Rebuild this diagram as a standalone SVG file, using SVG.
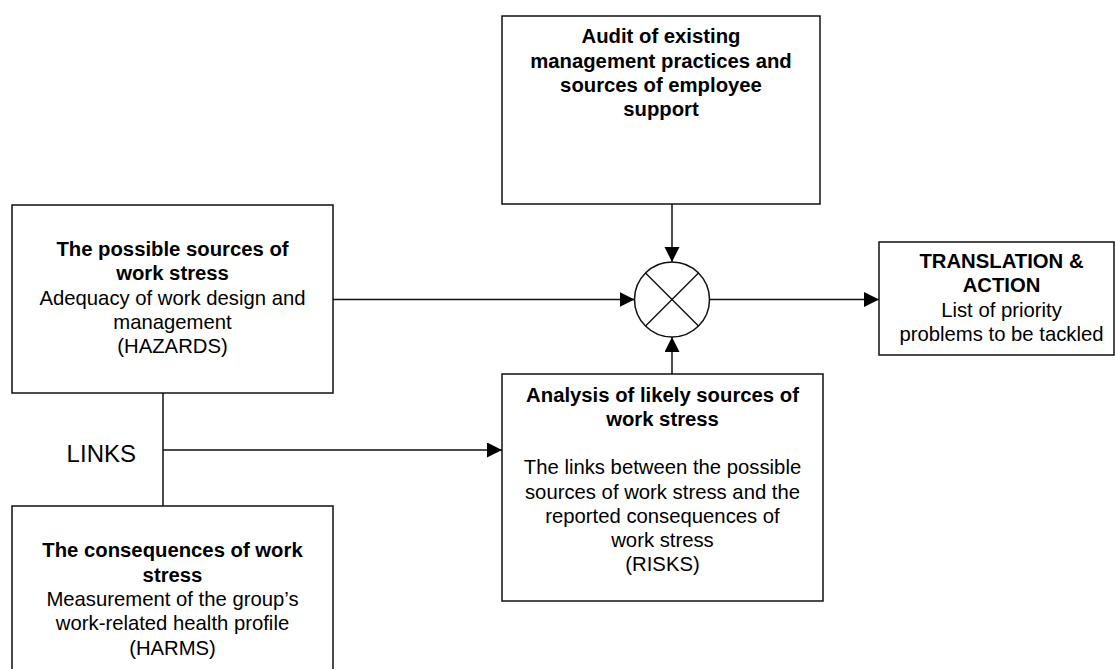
<svg xmlns="http://www.w3.org/2000/svg" width="1115" height="669" viewBox="0 0 1115 669">
  <style>
    .box { fill: #fff; stroke: #111; stroke-width: 1.5; }
    .wire { fill: none; stroke: #111; stroke-width: 1.5; }
    text { font-family: "Liberation Sans", Arial, sans-serif; font-size: 20.3px; fill: #000; text-anchor: middle; }
    .b { font-weight: bold; }
    .links { font-size: 24px; }
  </style>
  <defs>
    <marker id="arrow" markerUnits="userSpaceOnUse" markerWidth="16" markerHeight="16" refX="15" refY="7.5" orient="auto">
      <path d="M0,0 L15,7.5 L0,15 Z" fill="#000"/>
    </marker>
  </defs>

  <rect width="1115" height="669" fill="#fff"/>

  <!-- connectors -->
  <g id="connectors">
    <line class="wire" x1="333" y1="299.5" x2="634.5" y2="299.5" marker-end="url(#arrow)"/>
    <line class="wire" x1="672" y1="204" x2="672" y2="262" marker-end="url(#arrow)"/>
    <line class="wire" x1="672" y1="374" x2="672" y2="337" marker-end="url(#arrow)"/>
    <line class="wire" x1="709.5" y1="299.5" x2="879" y2="299.5" marker-end="url(#arrow)"/>
    <line class="wire" x1="163" y1="393" x2="163" y2="506"/>
    <line class="wire" x1="163" y1="450" x2="502" y2="450" marker-end="url(#arrow)"/>
    <text class="links" x="101.3" y="462">LINKS</text>
  </g>

  <!-- combining junction -->
  <g id="junction">
    <circle class="wire" cx="672" cy="299.5" r="37.5" fill="#fff"/>
    <line class="wire" x1="645.5" y1="273" x2="698.5" y2="326"/>
    <line class="wire" x1="698.5" y1="273" x2="645.5" y2="326"/>
  </g>

  <g id="hazards">
    <rect class="box" x="12" y="205" width="321" height="188"/>
    <text class="b" x="172.5" y="255.7">The possible sources of</text>
    <text class="b" x="172.5" y="280.1">work stress</text>
    <text x="172.5" y="304.5">Adequacy of work design and</text>
    <text x="172.5" y="328.9">management</text>
    <text x="172.5" y="353.3">(HAZARDS)</text>
  </g>

  <g id="harms">
    <rect class="box" x="12" y="506" width="321" height="200"/>
    <text class="b" x="172.5" y="557.3">The consequences of work</text>
    <text class="b" x="172.5" y="581.6">stress</text>
    <text x="172.5" y="606">Measurement of the group’s</text>
    <text x="172.5" y="630.3">work-related health profile</text>
    <text x="172.5" y="654.7">(HARMS)</text>
  </g>

  <g id="audit">
    <rect class="box" x="502" y="16" width="318" height="188"/>
    <text class="b" x="661" y="43.3">Audit of existing</text>
    <text class="b" x="661" y="67.6">management practices and</text>
    <text class="b" x="661" y="91.9">sources of employee</text>
    <text class="b" x="661" y="116.2">support</text>
  </g>

  <g id="risks">
    <rect class="box" x="502" y="374" width="321" height="227"/>
    <text class="b" x="662.5" y="401.7">Analysis of likely sources of</text>
    <text class="b" x="662.5" y="425.9">work stress</text>
    <text x="662.5" y="474.3">The links between the possible</text>
    <text x="662.5" y="498.5">sources of work stress and the</text>
    <text x="662.5" y="522.7">reported consequences of</text>
    <text x="662.5" y="546.9">work stress</text>
    <text x="662.5" y="571.1">(RISKS)</text>
  </g>

  <g id="action">
    <rect class="box" x="879" y="242" width="235" height="113"/>
    <text class="b" x="1001.5" y="268">TRANSLATION &amp;</text>
    <text class="b" x="1001.5" y="292.3">ACTION</text>
    <text x="1001.5" y="316.6">List of priority</text>
    <text x="1001.5" y="341">problems to be tackled</text>
  </g>
</svg>
